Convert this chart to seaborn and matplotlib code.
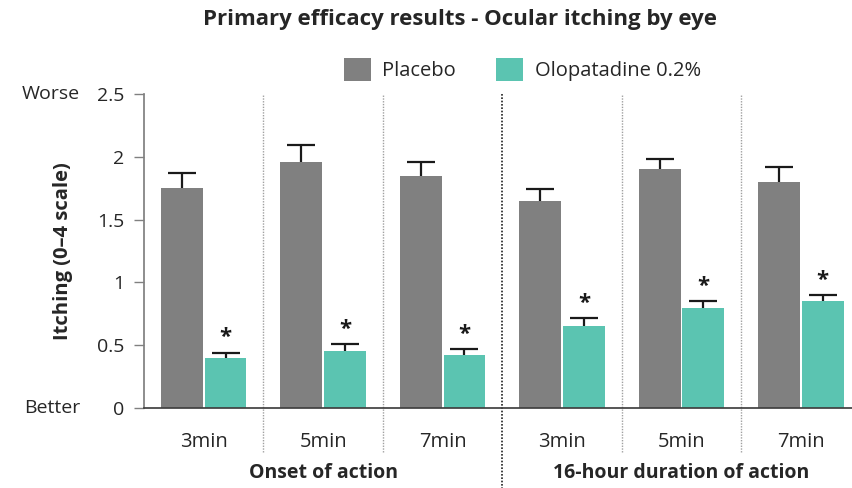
import numpy as np
import pandas as pd
import matplotlib
matplotlib.use("Agg")
import matplotlib.pyplot as plt
import matplotlib.transforms as mtransforms
import seaborn as sns

# data
timepoints = ["3min", "5min", "7min", "3min ", "5min ", "7min "]
tick_labels = ["3min", "5min", "7min", "3min", "5min", "7min"]
groups = ["Onset of action", "16-hour duration of action"]
placebo = [1.75, 1.96, 1.85, 1.65, 1.90, 1.80]
placebo_err = [0.12, 0.13, 0.11, 0.09, 0.08, 0.12]
olopatadine = [0.40, 0.455, 0.425, 0.65, 0.795, 0.85]
olopatadine_err = [0.04, 0.055, 0.045, 0.065, 0.055, 0.05]
treatments = ["Placebo", "Olopatadine 0.2%"]
colors = ["#808080", "#5bc4b1"]

sns.set_theme(style="white")
plt.rcParams["font.family"] = ["Open Sans", "DejaVu Sans"]

df = pd.DataFrame({
    "time": timepoints * 2,
    "value": placebo + olopatadine,
    "treatment": [treatments[0]] * 6 + [treatments[1]] * 6,
})

fig = plt.figure(figsize=(8.53, 4.88), dpi=100)
ax = fig.add_axes([144 / 853, 1 - 408 / 488, (853 - 144) / 853, (408 - 94) / 488])

sns.barplot(data=df, x="time", y="value", hue="treatment", palette=colors,
            width=0.73, gap=0.04, errorbar=None, saturation=1, ax=ax,
            edgecolor="none", legend=True)

# one-sided error bars (upper only) + significance stars
cap = 0.117
for i, (cont, errs) in enumerate(zip(ax.containers, [placebo_err, olopatadine_err])):
    xs = np.array([p.get_x() + p.get_width() / 2 for p in cont.patches])
    hs = np.array([p.get_height() for p in cont.patches])
    tops = hs + np.array(errs)
    ax.vlines(xs, hs, tops, color="#1a1a1a", lw=1.6)
    ax.hlines(tops, xs - cap, xs + cap, color="#1a1a1a", lw=1.6)
    if i == 1:
        for x, t in zip(xs, tops):
            ax.text(x, t + 0.035, "*", ha="center", va="bottom",
                    fontsize=16, fontweight="bold", color="#1a1a1a")

ax.set_xlim(-0.5, (853 - 203.5) / 119.5)
ax.set_ylim(0, 2.5)
ax.set_yticks([0, 0.5, 1, 1.5, 2, 2.5])
ax.set_yticklabels(["0", "0.5", "1", "1.5", "2", "2.5"], fontsize=14)
ax.set_xticks(range(6))
ax.set_xticklabels(tick_labels, fontsize=14.5)
ax.tick_params(axis="y", left=True, length=7, width=1, color="#808080", pad=7)
ax.tick_params(axis="x", bottom=False, pad=11)
ax.set_xlabel("")
ax.set_ylabel("Itching (0–4 scale)", fontsize=14.5, fontweight="bold")
ax.yaxis.label.set_va("center")
ax.yaxis.set_label_coords((63 - 144) / 709, 0.5)
for s in ["top", "right"]:
    ax.spines[s].set_visible(False)
ax.spines["left"].set_color("#808080")
ax.spines["bottom"].set_color("#404040")

# separators
for xv in [0.5, 1.5, 3.5, 4.5]:
    ax.axvline(xv, ymin=-0.14, ymax=1, color="#a0a0a0", lw=1, ls=(0, (1, 1)),
               clip_on=False)
ax.axvline(2.5, ymin=-0.26, ymax=1, color="#202020", lw=1.2, ls=(0, (1, 1)),
           clip_on=False)

# group labels
trans = mtransforms.blended_transform_factory(ax.transData, fig.transFigure)
ax.text(1, 1 - 473 / 488, groups[0], transform=trans, ha="center", va="center",
        fontsize=14, fontweight="bold")
ax.text(4, 1 - 473 / 488, groups[1], transform=trans, ha="center", va="center",
        fontsize=14, fontweight="bold")

# Worse / Better
trans2 = mtransforms.blended_transform_factory(fig.transFigure, ax.transData)
ax.text(80 / 853, 2.5, "Worse", transform=trans2, ha="right", va="center", fontsize=14)
ax.text(80 / 853, 0, "Better", transform=trans2, ha="right", va="center", fontsize=14)

fig.text(460 / 853, 1 - 20 / 488, "Primary efficacy results - Ocular itching by eye",
         ha="center", va="center", fontsize=16, fontweight="bold")

ax.legend(loc="center left", bbox_to_anchor=(344 / 853, 1 - 69.5 / 488),
          bbox_transform=fig.transFigure, ncol=2, frameon=False, fontsize=14.5,
          handlelength=1.35, handleheight=1.35, handletextpad=0.55,
          columnspacing=2.0, borderpad=0, borderaxespad=0, title=None)

fig.savefig("out.png", dpi=100)
